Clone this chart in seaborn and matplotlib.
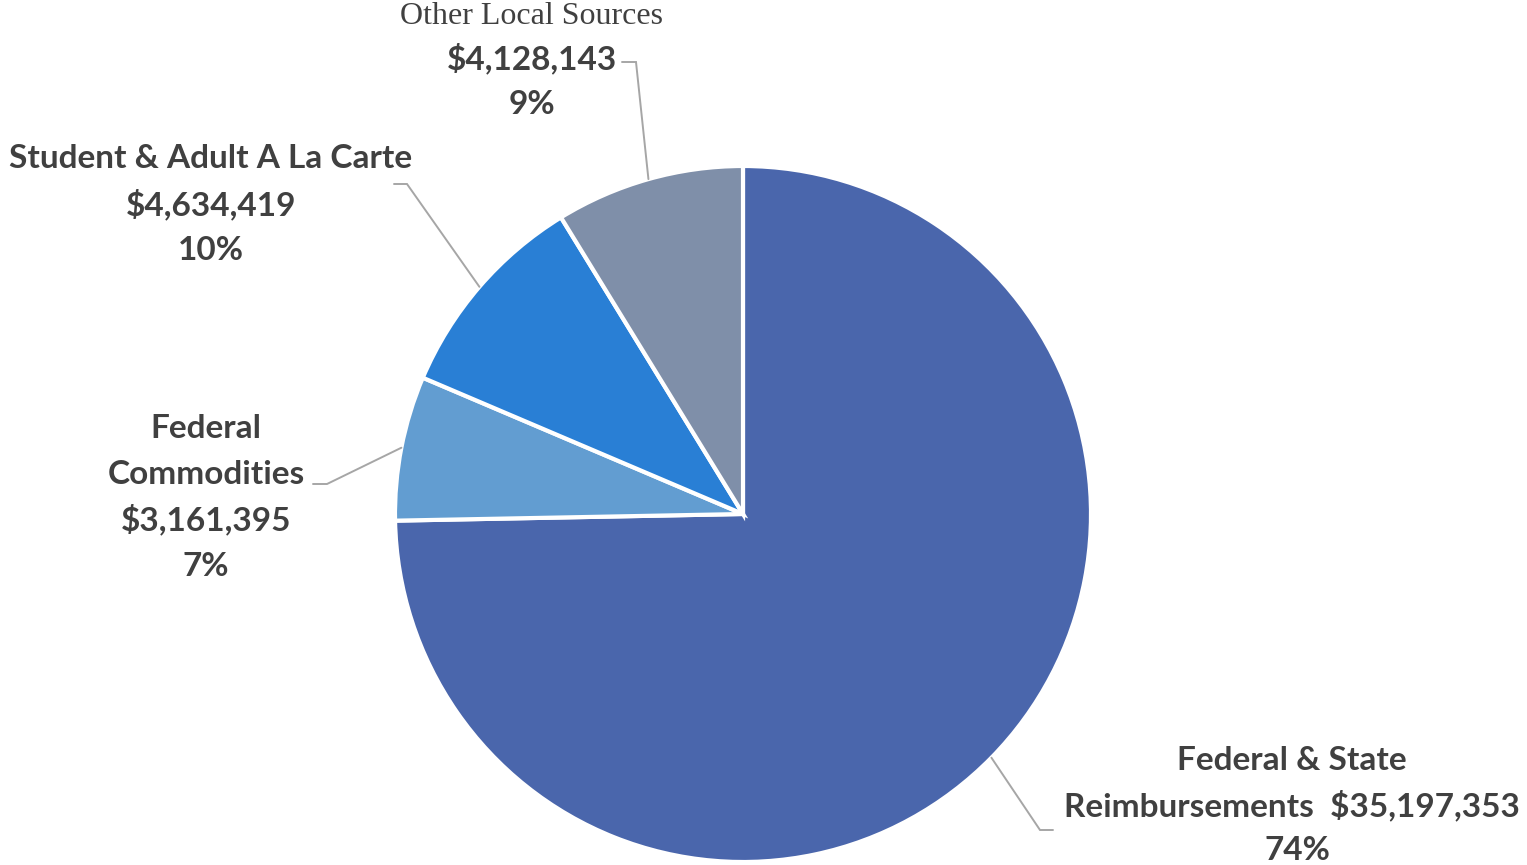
import numpy as np
import matplotlib
matplotlib.use("Agg")
import matplotlib.pyplot as plt
import seaborn as sns

# data
categories = ["Federal & State Reimbursements", "Federal Commodities",
              "Student & Adult A La Carte", "Other Local Sources"]
values = [35197353, 3161395, 4634419, 4128143]
pct_labels = ["74%", "7%", "10%", "9%"]
colors = ["#4A66AC", "#629DD1", "#297FD5", "#7F8FA9"]

sns.set_theme(style="white")
plt.rcParams["font.family"] = ["Lato", "DejaVu Sans"]

W, H = 1527, 865
fig = plt.figure(figsize=(W / 100, H / 100), dpi=100)
ax = fig.add_axes([0, 0, 1, 1])

cx, cy, r = 743, H - 514, 348
wedges, _ = ax.pie(values, colors=sns.color_palette(colors), startangle=90,
                   counterclock=False, center=(cx, cy), radius=r,
                   wedgeprops=dict(edgecolor="white", linewidth=3),
                   frame=True)
ax.set_xlim(0, W)
ax.set_ylim(0, H)
ax.set_aspect("equal")
ax.axis("off")

money = ["${:,.0f}".format(v) for v in values]

txt = "#404040"
fs = 24
bold = dict(fontsize=fs, fontweight="bold", color=txt, ha="center", va="center")


def put(x, y, s, **kw):
    ax.text(x, H - y, s, **{**bold, **kw})


# label lines (pixel positions, y from top)
put(532, 16, "Other Local Sources", family="Liberation Serif",
    fontweight="normal", fontsize=23)
put(532, 58, money[3])
put(532, 104, pct_labels[3])

put(211, 158, "Student & Adult A La Carte")
put(211, 204, money[2])
put(211, 250, pct_labels[2])

put(206, 428, "Federal")
put(206, 474, "Commodities")
put(206, 519, money[1])
put(206, 566, pct_labels[1])

put(1292, 760, "Federal & State")
put(1292, 805, "Reimbursements  " + money[0])
put(1297, 851, pct_labels[0])

# leader lines: from wedge mid-angle to the label
leader_ends = {
    0: [(1040, 830), (1053, 830)],
    1: [(327, 484), (313, 484)],
    2: [(407, 184), (394, 184)],
    3: [(636, 62), (622, 62)],
}
for i, w in enumerate(wedges):
    ang = np.deg2rad((w.theta1 + w.theta2) / 2)
    x0 = cx + r * np.cos(ang)
    y0 = cy + r * np.sin(ang)
    pts = [(x0, y0)] + [(x, H - y) for x, y in leader_ends[i]]
    xs, ys = zip(*pts)
    ax.plot(xs, ys, color="#A6A6A6", lw=1.4, solid_joinstyle="miter")

fig.savefig("out.png", dpi=100, facecolor="white")
